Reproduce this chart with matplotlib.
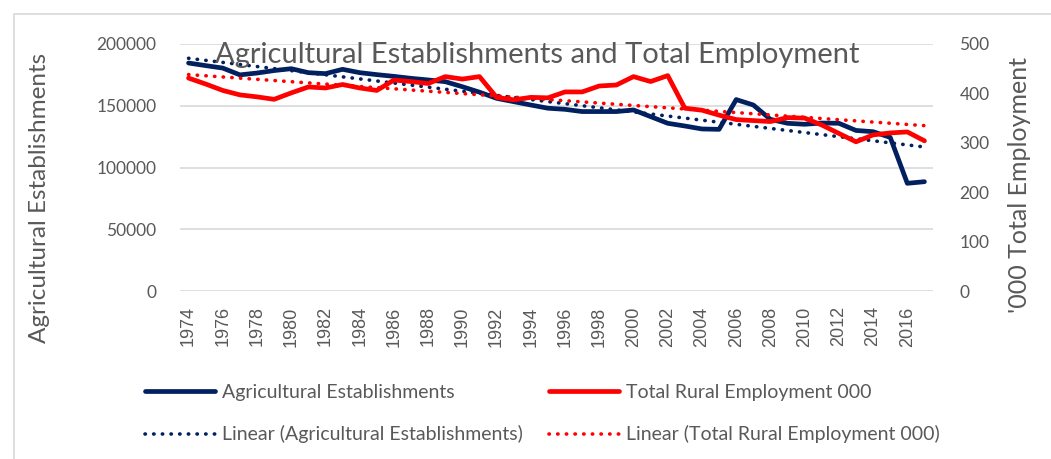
import matplotlib
matplotlib.use("Agg")
import matplotlib.pyplot as plt
import matplotlib.patches as mpatches
import numpy as np

years = list(range(1974, 2018))

ag_establishments = [
    184600, 182500, 180500, 175000, 176500, 178500, 180000, 176800, 176000, 179500,
    176800, 175200, 173800, 172200, 170900, 169500, 165400, 161000, 156000, 153300,
    150600, 148000, 147100, 145300, 145300, 145300, 146600, 141200, 135800, 133600,
    131200, 130900, 155000, 150600, 139000, 135800, 135000, 136000, 135800, 130000,
    129000, 124400, 87200, 88500,
]

rural_employment = [
    431, 419, 406, 397, 393, 388, 401, 413, 411, 418,
    411, 406, 427, 424, 420, 434, 429, 434, 392, 387,
    392, 391, 403, 403, 415, 417, 434, 424, 436, 370,
    366, 356, 347, 345, 343, 351, 350, 336, 319, 302,
    316, 320, 322, 304,
]

left_ticks = [0, 50000, 100000, 150000, 200000]
right_ticks = [0, 100, 200, 300, 400, 500]

NAVY = "#002060"
RED = "#FF0000"
GRAY = "#595959"

W, H = 1051, 459
fig = plt.figure(figsize=(W / 100, H / 100), dpi=100)
fig.patches.append(mpatches.Rectangle((14 / W, -0.1), 1.2, 1 - 14 / H + 0.1,
                                      transform=fig.transFigure, fill=False,
                                      edgecolor="#d9d9d9", linewidth=1.2))

ax = fig.add_axes([180 / W, 1 - 291 / H, 753 / W, 247 / H])
ax2 = ax.twinx()

x = np.arange(len(years))

# trendlines (Excel style linear fit)
fit_ag = np.polyval(np.polyfit(x, ag_establishments, 1), x)
fit_emp = np.polyval(np.polyfit(x, rural_employment, 1), x)

dots = (0, (0.1, 2.3))
l1, = ax.plot(x, ag_establishments, color=NAVY, linewidth=3.4, solid_joinstyle="round",
              solid_capstyle="round", zorder=3)
l3, = ax.plot(x, fit_ag, color=NAVY, linewidth=2.6, linestyle=dots,
              dash_capstyle="round", zorder=3)
l2, = ax2.plot(x, rural_employment, color=RED, linewidth=3.4, solid_joinstyle="round",
               solid_capstyle="round", zorder=3)
l4, = ax2.plot(x, fit_emp, color=RED, linewidth=2.6, linestyle=dots,
               dash_capstyle="round", zorder=3)

ax.set_ylim(0, 200000)
ax2.set_ylim(0, 500)
ax.set_xlim(-0.5, len(years) - 0.5)
ax.set_yticks(left_ticks)
ax2.set_yticks(right_ticks)
ax.set_xticks(x[::2])
ax.set_xticklabels([str(y) for y in years[::2]], rotation=90, fontsize=13,
                   color=GRAY, family="Liberation Sans")
ax.grid(axis="y", color="#d9d9d9", linewidth=1.2)
ax.set_axisbelow(True)

for a in (ax, ax2):
    for s in a.spines.values():
        s.set_visible(False)
    a.tick_params(length=0, colors=GRAY)
for lbl in ax.get_yticklabels() + ax2.get_yticklabels():
    lbl.set_fontsize(12.5)
    lbl.set_family("Lato")
ax.tick_params(axis="y", pad=17)
ax2.tick_params(axis="y", pad=19)
ax.tick_params(axis="x", pad=11)

ax.set_ylabel("Agricultural Establishments", fontsize=17.5, color=GRAY, family="Lato")
ax.yaxis.set_label_coords((50 - 180) / 753, 0.376)
ax2.set_ylabel("'000 Total Employment", fontsize=18, color=GRAY, family="Lato")
ax2.yaxis.set_label_coords((1008 - 180) / 753, 0.43)

fig.text(537 / W, 1 - 55 / H, "Agricultural Establishments and Total Employment", ha="center",
         va="center", fontsize=21, color=GRAY, family="Lato")

leg = fig.legend([l1, l3, l2, l4],
                 ["Agricultural Establishments", "Linear (Agricultural Establishments)",
                  "Total Rural Employment 000", "Linear (Total Rural Employment 000)"],
                 loc="upper left", bbox_to_anchor=(145 / W, 1 - 384 / H), ncol=2, frameon=False,
                 prop={"family": "Lato", "size": 14}, labelcolor=GRAY,
                 borderpad=0, borderaxespad=0,
                 handlelength=3.6, handletextpad=0.35, columnspacing=1.37, labelspacing=1.25)

fig.savefig("out.png", dpi=100)
